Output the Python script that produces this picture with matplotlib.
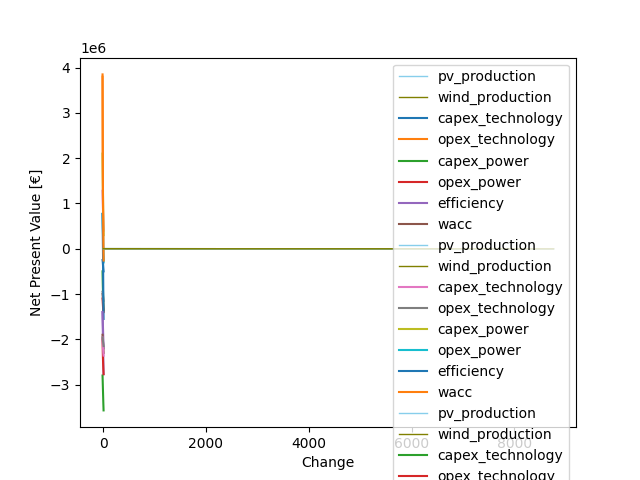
import numpy as np
import matplotlib
matplotlib.use('Agg')
import matplotlib.pyplot as plt

# parameter names, same order in every scenario
params = ['pv_production', 'wind_production', 'capex_technology', 'opex_technology',
          'capex_power', 'opex_power', 'efficiency', 'wacc']

# production changes are in hours over the year, the rest in percent
hours = [0, 2190, 4380, 6570, 8760]
change = [-10, -5, 0, 5, 10]

# NPV values (in EUR), three scenarios
npv_s1 = {
    'pv_production':    [2e3, 1e3, 0, -1e3, -2e3],
    'wind_production':  [1e3, 0, 0, 0, -1e3],
    'capex_technology': [-0.25e6, -0.3e6, -0.38e6, -0.45e6, -0.5e6],
    'opex_technology':  [3.85e6, 1.9e6, 0.8e6, -0.1e6, -0.26e6],
    'capex_power':      [-0.5e6, -0.8e6, -1.0e6, -1.2e6, -1.37e6],
    'opex_power':       [-1.1e6, -1.2e6, -1.3e6, -1.35e6, -1.4e6],
    'efficiency':       [-1.4e6, -1.8e6, -2.1e6, -2.4e6, -2.77e6],
    'wacc':             [-1.0e6, -1.08e6, -1.15e6, -1.25e6, -1.35e6],
}
npv_s2 = {
    'pv_production':    [3e3, 1e3, 0, -1e3, -3e3],
    'wind_production':  [2e3, 1e3, 0, -1e3, -2e3],
    'capex_technology': [1.28e6, 1.0e6, 0.8e6, 0.6e6, 0.4e6],
    'opex_technology':  [-0.95e6, -1.0e6, -1.05e6, -1.1e6, -1.15e6],
    'capex_power':      [2.1e6, 1.5e6, 1.0e6, 0.6e6, 0.3e6],
    'opex_power':       [0.77e6, 0.5e6, 0.3e6, 0.0, -0.3e6],
    'efficiency':       [0.77e6, 0.3e6, -0.2e6, -1.0e6, -1.55e6],
    'wacc':             [3.8e6, 2.0e6, 0.9e6, 0.2e6, -0.26e6],
}
npv_s3 = {
    'pv_production':    [1e3, 0, 0, 0, -1e3],
    'wind_production':  [1e3, 0, 0, 0, -1e3],
    'capex_technology': [-2.8e6, -3.0e6, -3.2e6, -3.4e6, -3.57e6],
    'opex_technology':  [-2.0e6, -2.3e6, -2.5e6, -2.65e6, -2.77e6],
    'capex_power':      [-1.4e6, -1.6e6, -1.8e6, -2.0e6, -2.2e6],
    'opex_power':       [-1.9e6, -2.0e6, -2.1e6, -2.2e6, -2.3e6],
    'efficiency':       [-1.96e6, -2.1e6, -2.2e6, -2.3e6, -2.36e6],
    'wacc':             [-1.96e6, -2.0e6, -2.05e6, -2.1e6, -2.15e6],
}

fig, ax = plt.subplots(figsize=(6.4, 4.8), dpi=100)

for npv in [npv_s1, npv_s2, npv_s3]:
    for p in params:
        if p == 'pv_production':
            ax.plot(hours, npv[p], color='skyblue', lw=1, label=p)
        elif p == 'wind_production':
            ax.plot(hours, npv[p], color='olive', lw=1, label=p)
        else:
            ax.plot(change, npv[p], label=p)

ax.set_xlabel('Change')
ax.set_ylabel('Net Present Value [€]')
ax.legend(loc='upper right')

plt.savefig('out.png')
